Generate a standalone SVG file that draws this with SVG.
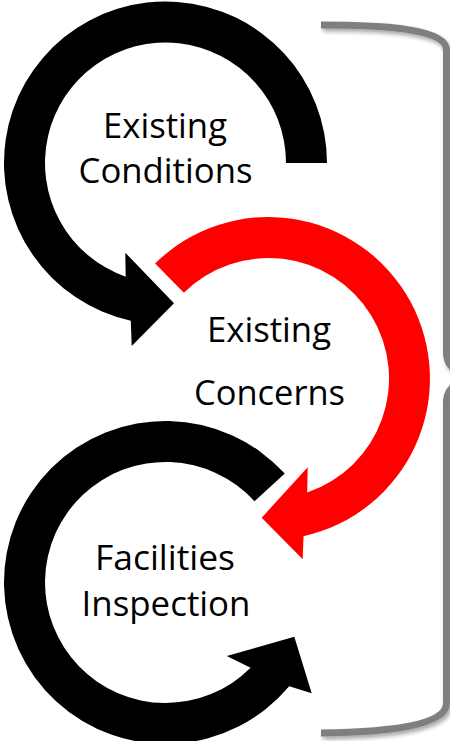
<svg xmlns="http://www.w3.org/2000/svg" width="450" height="741" viewBox="0 0 450 741">
  <style>
    .lbl { font-family: "Open Sans", "Noto Sans", "DejaVu Sans", sans-serif; font-size: 35px; fill: #000000; text-anchor: middle; }
    .blk { fill: #000000; }
    .red { fill: #FF0000; }
    .brace { fill: none; stroke: #7F7F7F; stroke-width: 7; stroke-linecap: butt; stroke-linejoin: round; }
  </style>
  <defs>
    <filter id="shadow" x="-20%" y="-5%" width="140%" height="110%">
      <feDropShadow dx="2" dy="3" stdDeviation="2" flood-color="#000000" flood-opacity="0.35"/>
    </filter>
  </defs>
  <rect width="450" height="741" fill="#FFFFFF"/>

  <g id="bracket">
    <path class="brace" filter="url(#shadow)" d="M321,25 C385,25 446.5,29 446.5,50 L446.5,352 C446.5,362 450,368 462,373"/>
    <path class="brace" filter="url(#shadow)" d="M462,382 C450,387 446.5,393 446.5,403 L446.5,703 C446.5,726 385,732 321,733"/>
  </g>

  <g id="node-existing-conditions">
    <path class="blk" d="M286,163 L327,163 A161.5 161.5 0 1 0 130.8,320.7 L131.7,346 L174,303.3 L125.3,252.7 L125.7,276.7 A120.5 120.5 0 1 1 286,163 Z"/>
    <text class="lbl" x="165" y="137.5" textLength="124" lengthAdjust="spacingAndGlyphs">Existing</text>
    <text class="lbl" x="165.5" y="183.3" textLength="174" lengthAdjust="spacingAndGlyphs">Conditions</text>
  </g>

  <g id="node-existing-concerns">
    <path class="red" d="M155.1,263.5 A161.5 161.5 0 1 1 303.5,536.2 L302.7,559.3 L261.7,517.7 L307.7,467.3 L307.2,492.6 A120.5 120.5 0 1 0 183.9,292.7 Z"/>
    <text class="lbl" x="269" y="342" textLength="124" lengthAdjust="spacingAndGlyphs">Existing</text>
    <text class="lbl" x="269.5" y="404.5" textLength="151" lengthAdjust="spacingAndGlyphs">Concerns</text>
  </g>

  <g id="node-facilities-inspection">
    <path class="blk" d="M254.5,501.2 L284.8,473.6 A161.5 161.5 0 1 0 289.2,686.3 L311.7,693.3 L294.3,636.7 L226.7,656 L250.6,667.8 A120.5 120.5 0 1 1 254.5,501.2 Z"/>
    <text class="lbl" x="165" y="570" textLength="140" lengthAdjust="spacingAndGlyphs">Facilities</text>
    <text class="lbl" x="166" y="615.5" textLength="169" lengthAdjust="spacingAndGlyphs">Inspection</text>
  </g>

  <g id="connectors"/>
</svg>
